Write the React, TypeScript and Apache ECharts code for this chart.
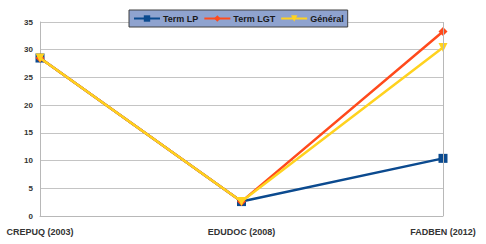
import React, { useEffect, useRef } from "react";
import * as echarts from "echarts";

const categories = ["CREPUQ (2003)", "EDUDOC (2008)", "FADBEN (2012)"];
const termLP = [28.5, 2.6, 10.4];
const termLGT = [28.5, 2.6, 33.3];
const general = [28.5, 2.6, 30.4];
const yTicks = { min: 0, max: 35, interval: 5 };

export default function App() {
  const ref = useRef<HTMLDivElement>(null);
  useEffect(() => {
    if (!ref.current) return;
    const chart = echarts.init(ref.current, undefined, { renderer: "svg" });
    const font = "Liberation Sans";
    chart.setOption({
      animation: false,
      grid: { left: 40, right: 43, top: 22, bottom: 28, containLabel: false },
      legend: {
        top: 10,
        left: 129,
        padding: [4, 4, 4, 4],
        backgroundColor: "#8fa3cf",
        borderColor: "#404040",
        borderWidth: 1,
        itemWidth: 26,
        itemHeight: 8,
        itemGap: 5,
        textStyle: { fontFamily: font, fontSize: 9, color: "#1a1a1a", fontWeight: "bold", padding: [0, 0, 0, -2] },
        data: ["Term LP", "Term LGT", "Général"],
      },
      xAxis: {
        type: "category",
        data: categories,
        boundaryGap: false,
        axisLine: { show: true, lineStyle: { color: "#b8b8b8" } },
        axisTick: { show: false },
        axisLabel: { fontFamily: font, fontSize: 9, fontWeight: "bold", color: "#333", margin: 11 },
        splitLine: { show: false },
      },
      yAxis: {
        type: "value",
        min: yTicks.min,
        max: yTicks.max,
        interval: yTicks.interval,
        axisLine: { show: true, lineStyle: { color: "#b8b8b8" } },
        axisTick: { show: false },
        axisLabel: { fontFamily: font, fontSize: 8, fontWeight: "bold", color: "#333", margin: 7 },
        splitLine: { show: true, lineStyle: { color: "#c4c4c4", width: 1 } },
      },
      series: [
        {
          name: "Term LP",
          type: "line",
          data: termLP,
          symbol: "rect",
          symbolSize: 9,
          lineStyle: { color: "#0b4a8f", width: 2.5 },
          itemStyle: { color: "#0b4a8f" },
          z: 2,
        },
        {
          name: "Term LGT",
          type: "line",
          data: termLGT,
          symbol: "diamond",
          symbolSize: 9,
          lineStyle: { color: "#ff4a1c", width: 2.5 },
          itemStyle: { color: "#ff4a1c" },
          z: 3,
        },
        {
          name: "Général",
          type: "line",
          data: general,
          symbol: "triangle",
          symbolRotate: 180,
          symbolSize: 9,
          lineStyle: { color: "#ffd21f", width: 2.5 },
          itemStyle: { color: "#ffd21f" },
          z: 4,
        },
      ],
    });
    return () => chart.dispose();
  }, []);
  return (
    <div style={{ position: "absolute", left: 0, top: 0, width: 486, height: 244 }}>
      <div ref={ref} style={{ width: 486, height: 244 }} />
      <div style={{ position: "absolute", left: 443, top: 22, width: 1, height: 194, background: "#b8b8b8", pointerEvents: "none" }} />
    </div>
  );
}
